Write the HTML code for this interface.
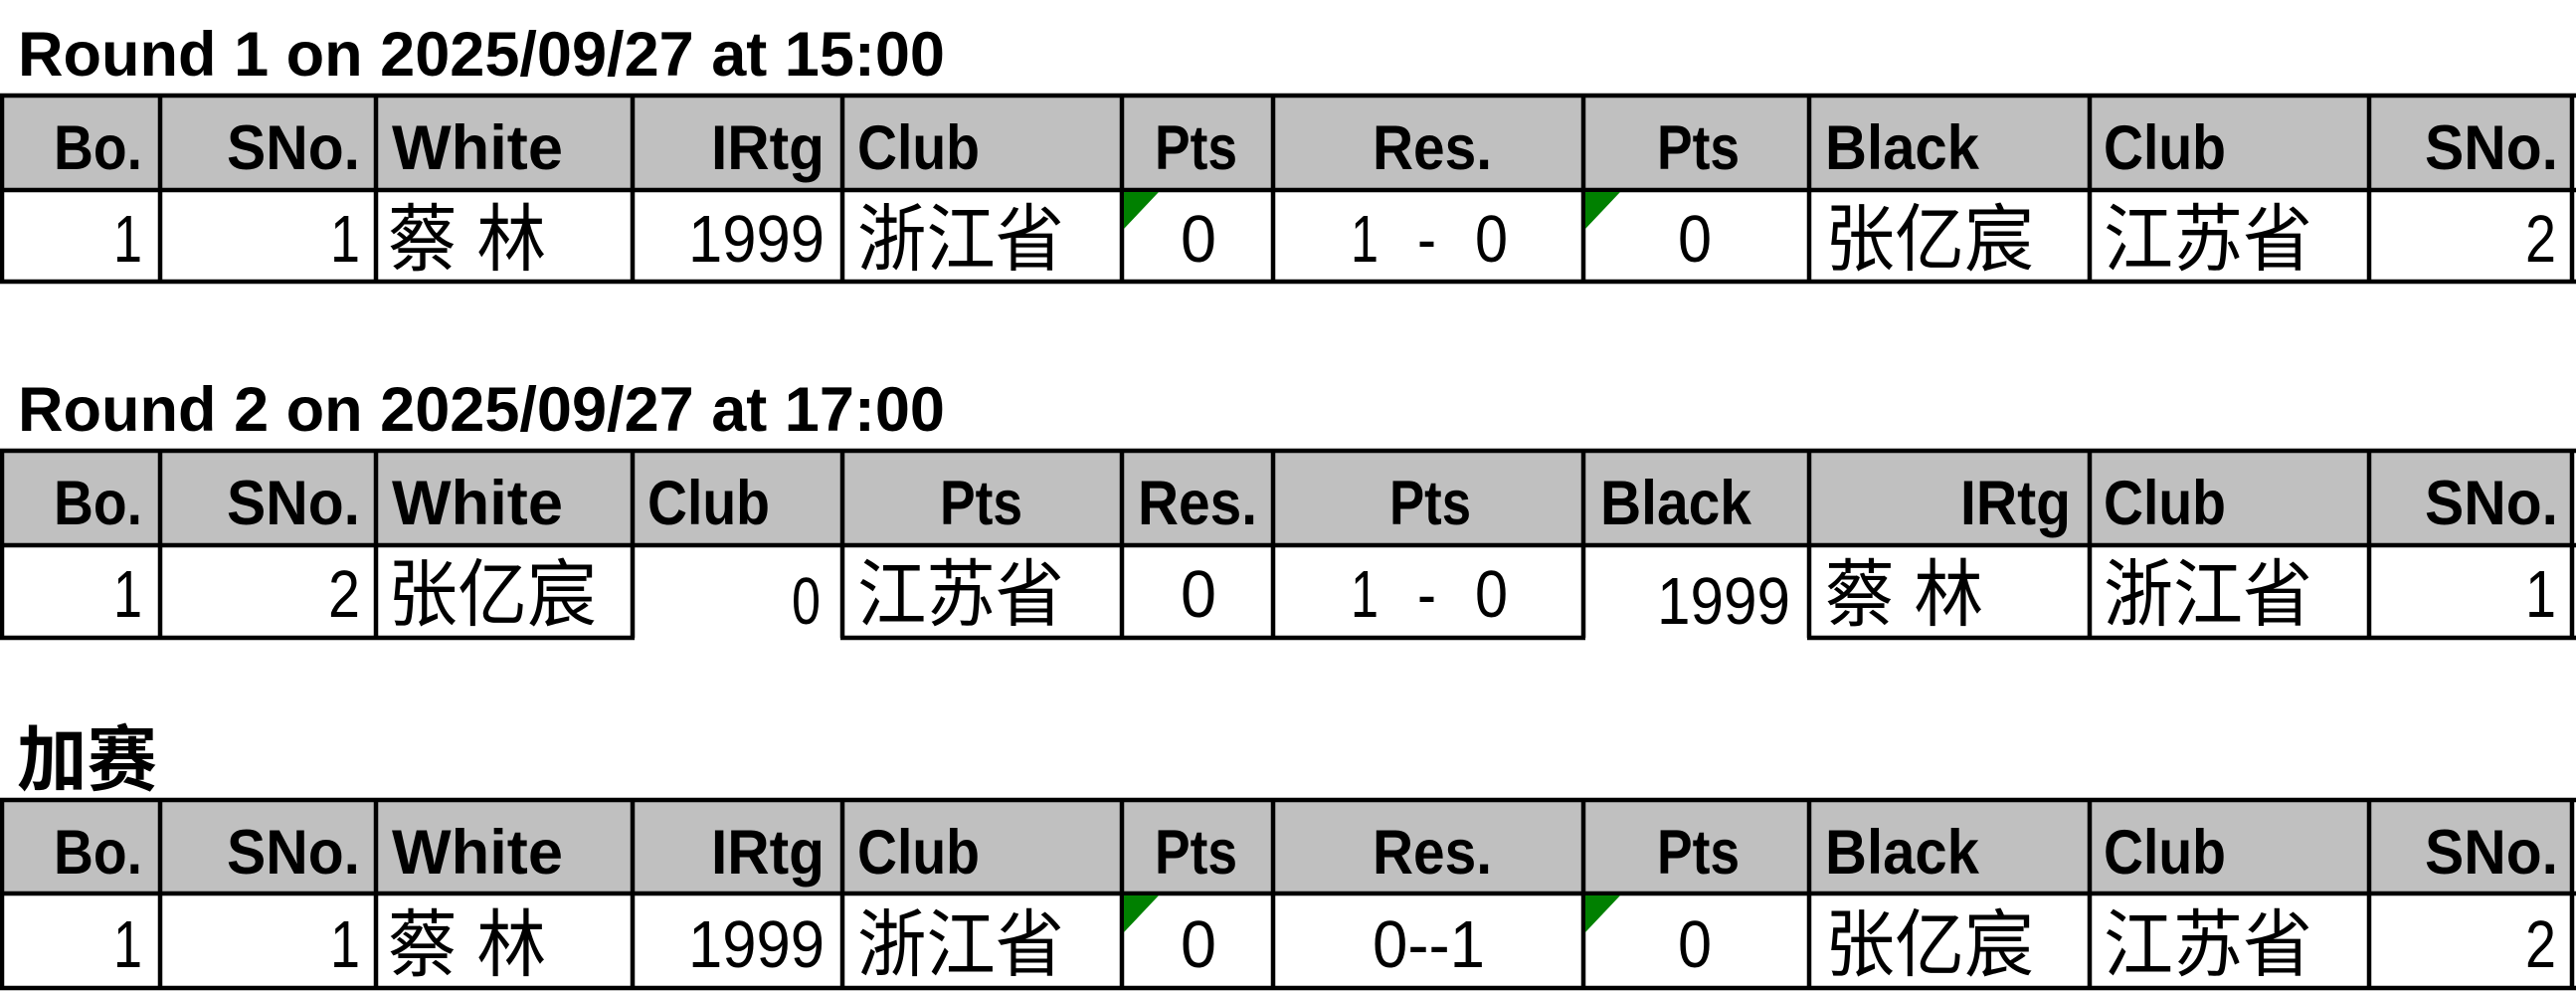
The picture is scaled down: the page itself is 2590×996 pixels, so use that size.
<!DOCTYPE html>
<html><head><meta charset="utf-8"><style>
html,body{margin:0;padding:0;background:#fff;width:2590px;height:996px;overflow:hidden}
svg{display:block}
.t{font-family:"Liberation Sans","Noto Sans CJK SC",sans-serif;font-weight:bold;font-size:63px}
.h{font-family:"Liberation Sans",sans-serif;font-weight:bold;font-size:63px}
.b{font-family:"Liberation Sans",sans-serif;font-size:67px}
.c{font-family:"Liberation Sans","Noto Sans CJK SC",sans-serif;font-size:74px}
.ct{font-family:"Liberation Sans","Noto Sans CJK SC",sans-serif;font-weight:bold;font-size:72px}
</style></head><body>
<svg width="2590" height="996" xmlns="http://www.w3.org/2000/svg">
<text class="t" x="18" y="76" textLength="932" lengthAdjust="spacingAndGlyphs">Round 1 on 2025/09/27 at 15:00</text>
<text class="t" x="18" y="433" textLength="932" lengthAdjust="spacingAndGlyphs">Round 2 on 2025/09/27 at 17:00</text>
<text class="ct" x="17" y="789" textLength="141" lengthAdjust="spacingAndGlyphs">加赛</text>

<rect x="2" y="96" width="2584" height="95" fill="#c0c0c0"/>
<rect x="2" y="453" width="2584" height="95" fill="#c0c0c0"/>
<rect x="2" y="804" width="2584" height="94" fill="#c0c0c0"/>

<g stroke="#000" stroke-width="4.5" fill="none">
<line x1="0" y1="96" x2="2590" y2="96"/><line x1="0" y1="191" x2="2590" y2="191"/><line x1="0" y1="283" x2="2590" y2="283"/>
<path d="M2 96V283M161 96V283M378 96V283M636 96V283M847 96V283M1128 96V283M1280 96V283M1592 96V283M1819 96V283M2101 96V283M2382 96V283M2586 96V283"/>
<line x1="0" y1="453" x2="2590" y2="453"/><line x1="0" y1="548" x2="2590" y2="548"/>
<line x1="0" y1="641" x2="638" y2="641"/><line x1="845" y1="641" x2="1594" y2="641"/><line x1="1817" y1="641" x2="2590" y2="641"/>
<path d="M2 453V641M161 453V641M378 453V641M636 453V641M847 453V641M1128 453V641M1280 453V641M1592 453V641M1819 453V641M2101 453V641M2382 453V641M2586 453V641"/>
<line x1="0" y1="804" x2="2590" y2="804"/><line x1="0" y1="898" x2="2590" y2="898"/><line x1="0" y1="993" x2="2590" y2="993"/>
<path d="M2 804V993M161 804V993M378 804V993M636 804V993M847 804V993M1128 804V993M1280 804V993M1592 804V993M1819 804V993M2101 804V993M2382 804V993M2586 804V993"/>
</g>

<g fill="#008000">
<polygon points="1130,193 1165,193 1130,230"/>
<polygon points="1594,193 1629,193 1594,230"/>
<polygon points="1130,900 1165,900 1130,937"/>
<polygon points="1594,900 1629,900 1594,937"/>
</g>

<g class="h">
<text x="54" y="170" textLength="89" lengthAdjust="spacingAndGlyphs">Bo.</text>
<text x="228" y="170" textLength="134" lengthAdjust="spacingAndGlyphs">SNo.</text>
<text x="394" y="170" textLength="172" lengthAdjust="spacingAndGlyphs">White</text>
<text x="715" y="170" textLength="114" lengthAdjust="spacingAndGlyphs">IRtg</text>
<text x="862" y="170" textLength="123" lengthAdjust="spacingAndGlyphs">Club</text>
<text x="1161" y="170" textLength="83" lengthAdjust="spacingAndGlyphs">Pts</text>
<text x="1380" y="170" textLength="120" lengthAdjust="spacingAndGlyphs">Res.</text>
<text x="1666" y="170" textLength="83" lengthAdjust="spacingAndGlyphs">Pts</text>
<text x="1835" y="170" textLength="155" lengthAdjust="spacingAndGlyphs">Black</text>
<text x="2115" y="170" textLength="123" lengthAdjust="spacingAndGlyphs">Club</text>
<text x="2438" y="170" textLength="134" lengthAdjust="spacingAndGlyphs">SNo.</text>
</g>
<g class="b">
<text x="114" y="263" textLength="29" lengthAdjust="spacingAndGlyphs">1</text>
<text x="332" y="263" textLength="30" lengthAdjust="spacingAndGlyphs">1</text>
<text x="692" y="263" textLength="137" lengthAdjust="spacingAndGlyphs">1999</text>
<text x="1187" y="263" textLength="36" lengthAdjust="spacingAndGlyphs">0</text>
<text x="1358" y="263" textLength="28" lengthAdjust="spacingAndGlyphs">1</text>
<text x="1425" y="263" textLength="19" lengthAdjust="spacingAndGlyphs">-</text>
<text x="1483" y="263" textLength="33" lengthAdjust="spacingAndGlyphs">0</text>
<text x="1687" y="263" textLength="34" lengthAdjust="spacingAndGlyphs">0</text>
<text x="2539" y="263" textLength="31" lengthAdjust="spacingAndGlyphs">2</text>
</g>
<g class="c">
<text x="390" y="266" textLength="159" lengthAdjust="spacingAndGlyphs">蔡 林</text>
<text x="862" y="266" textLength="208" lengthAdjust="spacingAndGlyphs">浙江省</text>
<text x="1835" y="266" textLength="210" lengthAdjust="spacingAndGlyphs">张亿宸</text>
<text x="2115" y="266" textLength="210" lengthAdjust="spacingAndGlyphs">江苏省</text>
</g>

<g class="h">
<text x="54" y="527" textLength="89" lengthAdjust="spacingAndGlyphs">Bo.</text>
<text x="228" y="527" textLength="134" lengthAdjust="spacingAndGlyphs">SNo.</text>
<text x="394" y="527" textLength="172" lengthAdjust="spacingAndGlyphs">White</text>
<text x="651" y="527" textLength="123" lengthAdjust="spacingAndGlyphs">Club</text>
<text x="945" y="527" textLength="83" lengthAdjust="spacingAndGlyphs">Pts</text>
<text x="1144" y="527" textLength="120" lengthAdjust="spacingAndGlyphs">Res.</text>
<text x="1397" y="527" textLength="82" lengthAdjust="spacingAndGlyphs">Pts</text>
<text x="1609" y="527" textLength="152" lengthAdjust="spacingAndGlyphs">Black</text>
<text x="1971" y="527" textLength="111" lengthAdjust="spacingAndGlyphs">IRtg</text>
<text x="2115" y="527" textLength="123" lengthAdjust="spacingAndGlyphs">Club</text>
<text x="2438" y="527" textLength="134" lengthAdjust="spacingAndGlyphs">SNo.</text>
</g>
<g class="b">
<text x="114" y="620" textLength="29" lengthAdjust="spacingAndGlyphs">1</text>
<text x="330" y="620" textLength="32" lengthAdjust="spacingAndGlyphs">2</text>
<text x="796" y="627" textLength="29" lengthAdjust="spacingAndGlyphs">0</text>
<text x="1187" y="620" textLength="36" lengthAdjust="spacingAndGlyphs">0</text>
<text x="1358" y="620" textLength="28" lengthAdjust="spacingAndGlyphs">1</text>
<text x="1425" y="620" textLength="19" lengthAdjust="spacingAndGlyphs">-</text>
<text x="1483" y="620" textLength="33" lengthAdjust="spacingAndGlyphs">0</text>
<text x="1666" y="627" textLength="134" lengthAdjust="spacingAndGlyphs">1999</text>
<text x="2539" y="620" textLength="31" lengthAdjust="spacingAndGlyphs">1</text>
</g>
<g class="c">
<text x="390" y="623" textLength="210" lengthAdjust="spacingAndGlyphs">张亿宸</text>
<text x="862" y="623" textLength="208" lengthAdjust="spacingAndGlyphs">江苏省</text>
<text x="1835" y="623" textLength="159" lengthAdjust="spacingAndGlyphs">蔡 林</text>
<text x="2115" y="623" textLength="210" lengthAdjust="spacingAndGlyphs">浙江省</text>
</g>

<g class="h">
<text x="54" y="878" textLength="89" lengthAdjust="spacingAndGlyphs">Bo.</text>
<text x="228" y="878" textLength="134" lengthAdjust="spacingAndGlyphs">SNo.</text>
<text x="394" y="878" textLength="172" lengthAdjust="spacingAndGlyphs">White</text>
<text x="715" y="878" textLength="114" lengthAdjust="spacingAndGlyphs">IRtg</text>
<text x="862" y="878" textLength="123" lengthAdjust="spacingAndGlyphs">Club</text>
<text x="1161" y="878" textLength="83" lengthAdjust="spacingAndGlyphs">Pts</text>
<text x="1380" y="878" textLength="120" lengthAdjust="spacingAndGlyphs">Res.</text>
<text x="1666" y="878" textLength="83" lengthAdjust="spacingAndGlyphs">Pts</text>
<text x="1835" y="878" textLength="155" lengthAdjust="spacingAndGlyphs">Black</text>
<text x="2115" y="878" textLength="123" lengthAdjust="spacingAndGlyphs">Club</text>
<text x="2438" y="878" textLength="134" lengthAdjust="spacingAndGlyphs">SNo.</text>
</g>
<g class="b">
<text x="114" y="972" textLength="29" lengthAdjust="spacingAndGlyphs">1</text>
<text x="332" y="972" textLength="30" lengthAdjust="spacingAndGlyphs">1</text>
<text x="692" y="972" textLength="137" lengthAdjust="spacingAndGlyphs">1999</text>
<text x="1187" y="972" textLength="36" lengthAdjust="spacingAndGlyphs">0</text>
<text x="1380" y="972" textLength="113" lengthAdjust="spacingAndGlyphs">0--1</text>
<text x="1687" y="972" textLength="34" lengthAdjust="spacingAndGlyphs">0</text>
<text x="2539" y="972" textLength="31" lengthAdjust="spacingAndGlyphs">2</text>
</g>
<g class="c">
<text x="390" y="975" textLength="159" lengthAdjust="spacingAndGlyphs">蔡 林</text>
<text x="862" y="975" textLength="208" lengthAdjust="spacingAndGlyphs">浙江省</text>
<text x="1835" y="975" textLength="210" lengthAdjust="spacingAndGlyphs">张亿宸</text>
<text x="2115" y="975" textLength="210" lengthAdjust="spacingAndGlyphs">江苏省</text>
</g>
</svg>
</body></html>
